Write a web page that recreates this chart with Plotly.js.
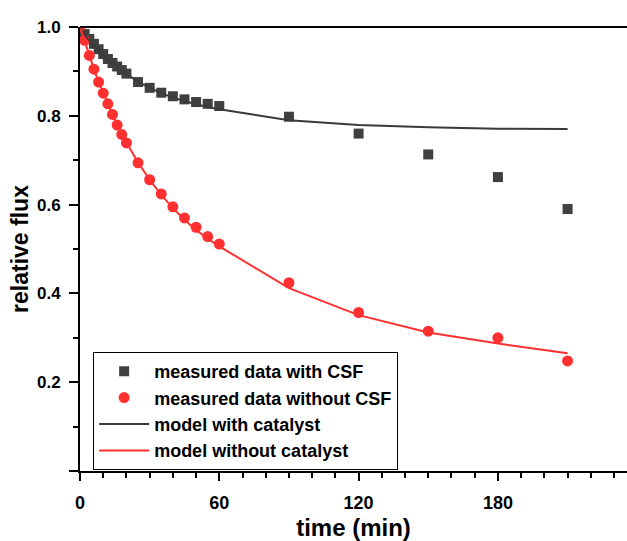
<!DOCTYPE html>
<html>
<head>
<meta charset="utf-8">
<script src="https://cdn.plot.ly/plotly-3.0.1.min.js"></script>
<style>html,body{margin:0;padding:0;background:#fff;}#chart{width:627px;height:541px;}</style>
</head>
<body>
<div id="chart"></div>
<script>
// time points (min)
const timeMin = [0, 2, 4, 6, 8, 10, 12, 14, 16, 18, 20, 25, 30, 35, 40, 45, 50, 55, 60, 90, 120, 150, 180, 210];
// measured relative flux with CSF (squares)
const measuredWithCSF = [1.0, 0.984, 0.973, 0.962, 0.950, 0.939, 0.928, 0.919, 0.911, 0.903, 0.895, 0.876, 0.863, 0.852, 0.844, 0.837, 0.831, 0.827, 0.822, 0.798, 0.760, 0.713, 0.662, 0.590];
// measured relative flux without CSF (circles)
const measuredWithoutCSF = [1.0, 0.970, 0.936, 0.905, 0.876, 0.851, 0.827, 0.803, 0.779, 0.758, 0.739, 0.694, 0.656, 0.624, 0.595, 0.570, 0.549, 0.528, 0.511, 0.424, 0.357, 0.315, 0.300, 0.248];
// model curves
const modelWithCatalyst = [1.0, 0.983, 0.970, 0.958, 0.947, 0.936, 0.926, 0.917, 0.909, 0.901, 0.894, 0.877, 0.863, 0.851, 0.841, 0.833, 0.826, 0.820, 0.815, 0.790, 0.779, 0.774, 0.771, 0.770];
const modelWithoutCatalyst = [1.0, 0.967, 0.935, 0.905, 0.877, 0.851, 0.826, 0.803, 0.781, 0.760, 0.740, 0.695, 0.656, 0.622, 0.592, 0.566, 0.543, 0.523, 0.506, 0.412, 0.351, 0.312, 0.287, 0.265];
// labels
const seriesNames = ["measured data with CSF", "measured data without CSF", "model with catalyst", "model without catalyst"];
const xTickVals = [0, 60, 120, 180, 240];
const yTickVals = [0, 0.2, 0.4, 0.6, 0.8, 1.0];
const yTickText = ["", "0.2", "0.4", "0.6", "0.8", "1.0"];

const FONT = "Liberation Sans, Arial, sans-serif";
const grey = "#404040";
const red = "#ff3030";

const traces = [
  {x: timeMin, y: measuredWithCSF, name: seriesNames[0], type: "scatter", mode: "markers",
   marker: {symbol: "square", size: 10, color: grey}},
  {x: timeMin, y: measuredWithoutCSF, name: seriesNames[1], type: "scatter", mode: "markers",
   marker: {symbol: "circle", size: 11, color: red}},
  {x: timeMin, y: modelWithCatalyst, name: seriesNames[2], type: "scatter", mode: "lines",
   line: {color: "#3a3a3a", width: 2}},
  {x: timeMin, y: modelWithoutCatalyst, name: seriesNames[3], type: "scatter", mode: "lines",
   line: {color: red, width: 2}}
];

const layout = {
  width: 627, height: 541,
  margin: {l: 80, r: 0, t: 27, b: 70},
  paper_bgcolor: "#fff", plot_bgcolor: "#fff",
  font: {family: FONT, size: 17, color: "#000", weight: "bold"},
  showlegend: true,
  legend: {
    x: 0.024, y: 0.268, xanchor: "left", yanchor: "top",
    bgcolor: "#fff", bordercolor: "#000", borderwidth: 1,
    font: {family: FONT, size: 18, color: "#000", weight: "bold"},
    itemsizing: "trace", tracegroupgap: 0, itemwidth: 50
  },
  xaxis: {
    range: [0, 235.6], showgrid: false, zeroline: false,
    showline: true, linecolor: "#000", linewidth: 2,
    ticks: "outside", ticklen: 8, tickwidth: 2, tickcolor: "#000",
    tickvals: xTickVals, ticklabelstandoff: 6,
    tickfont: {family: FONT, size: 18, color: "#000", weight: "bold"},
    minor: {dtick: 10, ticks: "outside", ticklen: 5, tickwidth: 2, tickcolor: "#000", showgrid: false},
    title: {text: "time (min)", font: {family: FONT, size: 24, color: "#000", weight: "bold"}, standoff: 18}
  },
  yaxis: {
    range: [0, 1.0], showgrid: false, zeroline: false,
    showline: true, linecolor: "#000", linewidth: 2,
    ticks: "outside", ticklen: 9, tickwidth: 2, tickcolor: "#000",
    tickvals: yTickVals, ticktext: yTickText, ticklabelstandoff: 5,
    tickfont: {family: FONT, size: 17, color: "#000", weight: "bold"},
    minor: {dtick: 0.1, ticks: "outside", ticklen: 5, tickwidth: 2, tickcolor: "#000", showgrid: false},
    title: {text: "relative flux", font: {family: FONT, size: 23, color: "#000", weight: "bold"}, standoff: 2}
  },
  shapes: [
    {type: "line", xref: "paper", yref: "paper", x0: 0, x1: 1, y0: 1, y1: 1,
     line: {color: "#000", width: 2}}
  ]
};

Plotly.newPlot("chart", traces, layout, {displayModeBar: false, staticPlot: true});
</script>
</body>
</html>
